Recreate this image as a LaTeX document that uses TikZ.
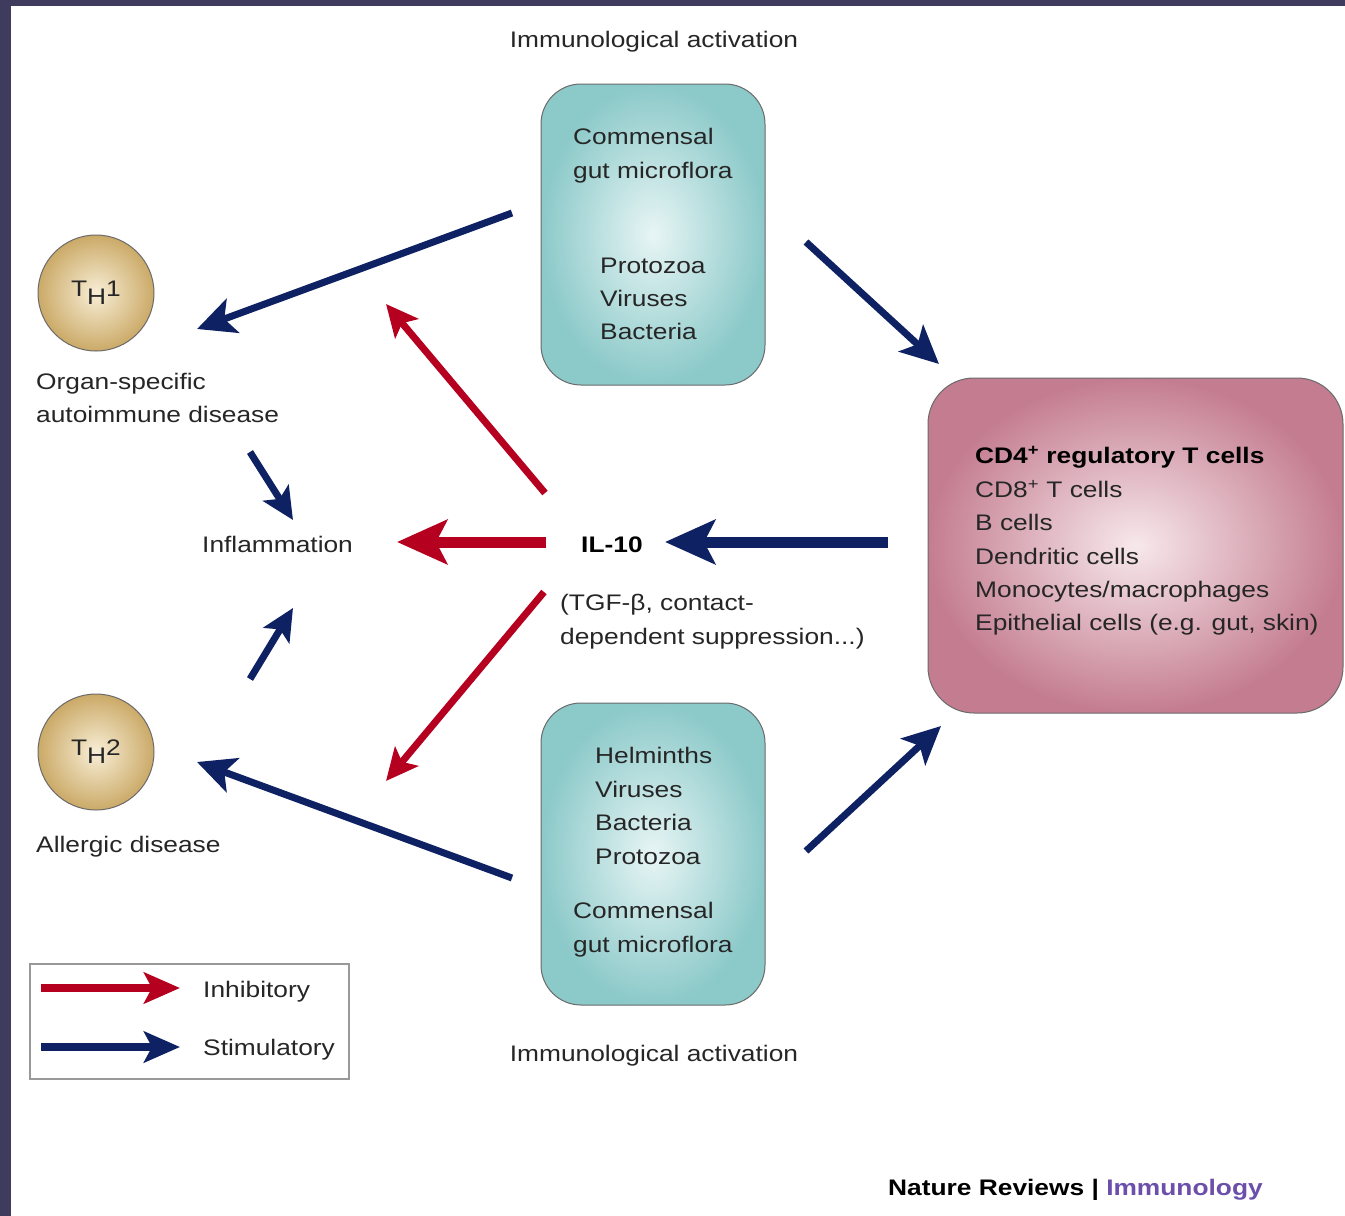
\documentclass[tikz,border=0pt]{standalone}
\usepackage{fontspec}
\setmainfont{Liberation Sans}[FakeStretch=1.17]
\usetikzlibrary{arrows.meta}
\definecolor{navy}{HTML}{0D2163}
\definecolor{inhred}{HTML}{B50020}
\definecolor{framec}{HTML}{3E3B5E}
\definecolor{txtc}{HTML}{262626}
\definecolor{tealin}{HTML}{E8F5F5}
\definecolor{tealout}{HTML}{8CC9C9}
\definecolor{pinkin}{HTML}{F7E8EC}
\definecolor{pinkout}{HTML}{C47D90}
\definecolor{goldin}{HTML}{F8EED6}
\definecolor{goldout}{HTML}{CBAA68}
\definecolor{boxline}{HTML}{6A6A6A}
\definecolor{purp}{HTML}{6C4FAA}
\begin{document}
\begin{tikzpicture}[x=1pt,y=-1pt,
  every node/.style={font=\fontsize{22.5}{27}\selectfont, text=txtc, inner sep=0pt},
  txt/.style={anchor=base west},
  ctxt/.style={anchor=base},
  tealbox/.style={rectangle, rounded corners=40pt, draw=boxline, line width=1pt,
    inner color=tealin, outer color=tealout},
  pinkbox/.style={rectangle, rounded corners=46pt, draw=boxline, line width=1pt,
    inner color=pinkin, outer color=pinkout},
  cellc/.style={circle, minimum size=116pt, draw=boxline, line width=1pt,
    inner color=goldin, outer color=goldout},
  bigarr/.style={line width=11pt, -{Stealth[length=50pt, width=44pt, inset=11pt]}},
  midarr/.style={line width=7pt, -{Stealth[length=38pt, width=36pt, inset=9pt]}},
  smallarr/.style={line width=7pt, -{Stealth[length=32pt, width=30pt, inset=7pt]}},
  legarr/.style={line width=8pt, -{Stealth[length=36pt, width=31pt, inset=8pt]}},
  stim/.style={draw=navy, color=navy},
  inh/.style={draw=inhred, color=inhred}
]
\useasboundingbox (0,0) rectangle (1345,1216);
\fill[framec] (0,0) rectangle (1345,1216);
\fill[white] (11,6) rectangle (1345,1216);

% boxes
\node[tealbox, minimum width=224pt, minimum height=301pt] (topbox) at (653,234.5) {};
\node[tealbox, minimum width=224pt, minimum height=302pt] (botbox) at (653,854) {};
\node[pinkbox, minimum width=415pt, minimum height=335pt] (pink) at (1135.5,545.5) {};
\node[cellc] (th1) at (96,293) {T\raisebox{-8pt}{H}1};
\node[cellc] (th2) at (96,752) {T\raisebox{-8pt}{H}2};

% texts
\node[ctxt] (toplab) at (654,47) {Immunological activation};
\node[ctxt] (botlab) at (654,1061) {Immunological activation};
\node[txt] (t1) at (573,144) {Commensal};
\node[txt] (t2) at (573,178) {gut microflora};
\node[txt] (t3) at (600,273) {Protozoa};
\node[txt] (t4) at (600,306) {Viruses};
\node[txt] (t5) at (600,339) {Bacteria};
\node[txt] (b1) at (595,763) {Helminths};
\node[txt] (b2) at (595,797) {Viruses};
\node[txt] (b3) at (595,830) {Bacteria};
\node[txt] (b4) at (595,864) {Protozoa};
\node[txt] (b5) at (573,918) {Commensal};
\node[txt] (b6) at (573,952) {gut microflora};
\node[txt] (os1) at (36,389) {Organ-specific};
\node[txt] (os2) at (36,422) {autoimmune disease};
\node[txt] (al) at (36,852) {Allergic disease};
\node[txt] (infl) at (202,552) {Inflammation};
\node[txt, font=\fontsize{22.5}{27}\selectfont\bfseries, text=black] (il10) at (581,552) {IL-10};
\node[txt] (tgf1) at (560,610) {(TGF-β, contact-};
\node[txt] (tgf2) at (560,644) {dependent suppression...)};
\node[txt, font=\fontsize{22.5}{27}\selectfont\bfseries, text=black] (p1) at (975,463) {CD4\textsuperscript{+} regulatory T cells};
\node[txt] (p2) at (975,497) {CD8\textsuperscript{+} T cells};
\node[txt] (p3) at (975,530) {B cells};
\node[txt] (p4) at (975,564) {Dendritic cells};
\node[txt] (p5) at (975,597) {Monocytes/macrophages};
\node[txt] (p6) at (975,630) {Epithelial cells (e.g. gut, skin)};

% arrow endpoints
\coordinate (a1s) at (512,213);  \coordinate (a1e) at (197,329);
\coordinate (a2s) at (806,242);  \coordinate (a2e) at (939,364);
\coordinate (a3s) at (888,542);  \coordinate (a3e) at (665,542);
\coordinate (a4s) at (806,851);  \coordinate (a4e) at (941,726);
\coordinate (a5s) at (512,878);  \coordinate (a5e) at (197,762);
\coordinate (a6s) at (250,452);  \coordinate (a6e) at (293,520);
\coordinate (a7s) at (250,679);  \coordinate (a7e) at (293,608);
\coordinate (r1s) at (545,493);  \coordinate (r1e) at (386,304);
\coordinate (r2s) at (546,542);  \coordinate (r2e) at (397,542);
\coordinate (r3s) at (544,592);  \coordinate (r3e) at (386,781);

\draw[stim, midarr] (a1s) -- (a1e);
\draw[stim, midarr] (a2s) -- (a2e);
\draw[stim, bigarr] (a3s) -- (a3e);
\draw[stim, midarr] (a4s) -- (a4e);
\draw[stim, midarr] (a5s) -- (a5e);
\draw[stim, smallarr] (a6s) -- (a6e);
\draw[stim, smallarr] (a7s) -- (a7e);
\draw[inh, smallarr] (r1s) -- (r1e);
\draw[inh, bigarr] (r2s) -- (r2e);
\draw[inh, smallarr] (r3s) -- (r3e);

% legend
\node[draw=gray!80, line width=1.5pt, minimum width=319pt, minimum height=115pt] (legend) at (189.5,1021.5) {};
\coordinate (l1s) at (41,988);  \coordinate (l1e) at (180,988);
\coordinate (l2s) at (41,1047); \coordinate (l2e) at (180,1047);
\draw[inh, legarr] (l1s) -- (l1e);
\draw[stim, legarr] (l2s) -- (l2e);
\node[txt] (inhlab) at (203,997) {Inhibitory};
\node[txt] (stimlab) at (203,1055) {Stimulatory};

% credit
\node[txt, font=\fontsize{22.5}{27}\selectfont\bfseries, text=black] (credit) at (888,1195) {Nature Reviews | \textcolor{purp}{Immunology}};
\end{tikzpicture}
\end{document}
